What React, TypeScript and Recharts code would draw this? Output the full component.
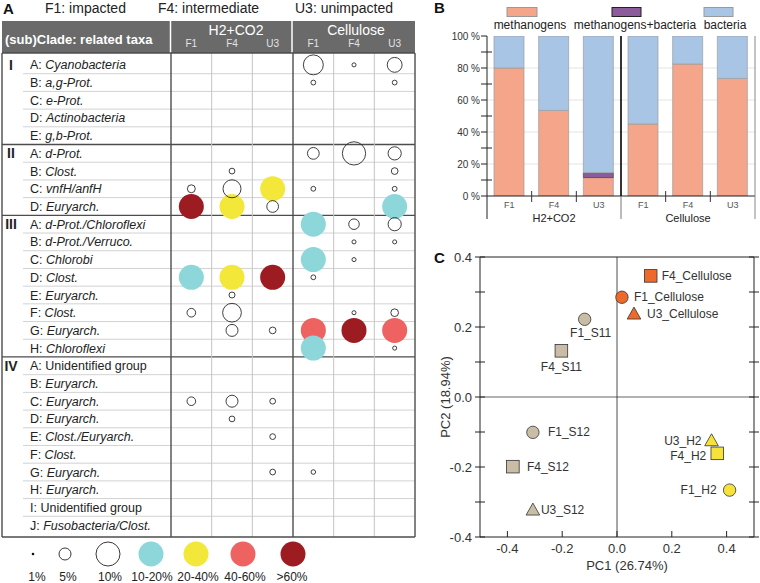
import React from 'react';
import {
  ScatterChart,
  Scatter,
  XAxis,
  YAxis,
  ReferenceLine,
  BarChart,
  Bar,
  CartesianGrid,
} from 'recharts';

const FONT = '"Liberation Sans", Arial, Helvetica, sans-serif';

// ---------- A: clone share per subclade ----------
const cladeNames = ['I', 'II', 'III', 'IV'];
const cladeFirstRow = [0, 5, 9, 17];
const subcladeLetters = [
  'A', 'B', 'C', 'D', 'E',
  'A', 'B', 'C', 'D',
  'A', 'B', 'C', 'D', 'E', 'F', 'G', 'H',
  'A', 'B', 'C', 'D', 'E', 'F', 'G', 'H', 'I', 'J',
];
const relatedTaxa = [
  'Cyanobacteria', 'a,g-Prot.', 'e-Prot.', 'Actinobacteria', 'g,b-Prot.',
  'd-Prot.', 'Clost.', 'vnfH/anfH', 'Euryarch.',
  'd-Prot./Chloroflexi', 'd-Prot./Verruco.', 'Chlorobi', 'Clost.', 'Euryarch.', 'Clost.', 'Euryarch.', 'Chloroflexi',
  'Unidentified group', 'Euryarch.', 'Euryarch.', 'Euryarch.', 'Clost./Euryarch.', 'Clost.', 'Euryarch.', 'Euryarch.',
  'Unidentified group', 'Fusobacteria/Clost.',
];
const sampleColumns = ['F1', 'F4', 'U3', 'F1', 'F4', 'U3'];

// open circles: [row, column, % of clones]
const minorShares: [number, number, number][] = [
  [0, 3, 8.3], [0, 4, 1.7], [0, 5, 6.2],
  [1, 3, 2], [1, 5, 2],
  [5, 3, 4.9], [5, 4, 9.7], [5, 5, 5.5],
  [6, 1, 2.4], [6, 5, 2.8],
  [7, 0, 3.3], [7, 1, 7.5], [7, 3, 2], [7, 5, 2],
  [8, 2, 4.9],
  [9, 4, 4.4], [9, 5, 5.5],
  [10, 4, 1.7], [10, 5, 1.7],
  [11, 4, 1.7],
  [12, 3, 2],
  [13, 1, 2.5],
  [14, 0, 3.6], [14, 1, 7.8], [14, 4, 1.7], [14, 5, 3.2],
  [15, 1, 5], [15, 2, 2.8],
  [16, 5, 1.7],
  [19, 0, 3.6], [19, 1, 5], [19, 2, 2.4],
  [20, 1, 2.4],
  [21, 2, 2.4],
  [23, 2, 2.4], [23, 3, 1.9],
];

// filled circles: [row, column, share class]
const majorShares: [number, number, string][] = [
  [7, 2, '20-40%'],
  [8, 0, '>60%'], [8, 1, '20-40%'], [8, 5, '10-20%'],
  [9, 3, '10-20%'],
  [11, 3, '10-20%'],
  [12, 0, '10-20%'], [12, 1, '20-40%'], [12, 2, '>60%'],
  [15, 3, '40-60%'], [15, 4, '>60%'], [15, 5, '40-60%'],
  [16, 3, '10-20%'],
];
const shareClasses = ['>60%', '40-60%', '20-40%', '10-20%'];
const classColors: Record<string, string> = {
  '10-20%': '#8dd7db',
  '20-40%': '#f3e73a',
  '40-60%': '#ef6262',
  '>60%': '#9c1c21',
};

// ---------- B: methanogens vs bacteria ----------
const barSites = ['F1', 'F4', 'U3', 'F1', 'F4', 'U3'];
const barSubstrates = ['H2+CO2', 'H2+CO2', 'H2+CO2', 'Cellulose', 'Cellulose', 'Cellulose'];
const methanogensShare = [80, 53.5, 11.5, 45, 82.5, 73.5];
const mixedShare = [0, 0, 3, 0, 0, 0];
const bacteriaShare = [20, 46.5, 85.5, 55, 17.5, 26.5];
const percentTicks = [0, 10, 20, 30, 40, 50, 60, 70, 80, 90, 100];

// ---------- C: PCA ----------
const pcaSamples = [
  'F4_Cellulose', 'F1_Cellulose', 'U3_Cellulose',
  'F1_S11', 'F4_S11',
  'F1_S12', 'F4_S12', 'U3_S12',
  'U3_H2', 'F4_H2', 'F1_H2',
];
const pc1Scores = [0.123, 0.018, 0.062, -0.118, -0.203, -0.307, -0.38, -0.307, 0.345, 0.366, 0.411];
const pc2Scores = [0.346, 0.285, 0.237, 0.222, 0.132, -0.101, -0.199, -0.323, -0.125, -0.161, -0.266];
const pc1Ticks = [-0.4, -0.2, 0, 0.2, 0.4];
const pc2Ticks = [-0.4, -0.3, -0.2, -0.1, 0, 0.1, 0.2, 0.3, 0.4];

// label offsets next to each PCA marker
const labelPlacement: Record<string, [number, number, 'start' | 'middle' | 'end']> = {
  F4_Cellulose: [11, 4, 'start'],
  F1_Cellulose: [12, 4, 'start'],
  U3_Cellulose: [13, 4, 'start'],
  F1_S11: [6, 18, 'middle'],
  F4_S11: [0, 20, 'middle'],
  F1_S12: [15, 4, 'start'],
  F4_S12: [14, 4, 'start'],
  U3_S12: [8, 4, 'start'],
  U3_H2: [-10, 4, 'end'],
  F4_H2: [-11, 7, 'end'],
  F1_H2: [-13, 4, 'end'],
};

// table geometry for panel A
const TABLE_LEFT = 2;
const DATA_LEFT = 171;
const TABLE_RIGHT = 415;
const COL_W = (TABLE_RIGHT - DATA_LEFT) / 6;
const X_LEFT = -0.5 - (DATA_LEFT - TABLE_LEFT) / COL_W;
const ROW_PAD = 0.17;
const Y_TOP = -0.5 - ROW_PAD;
const Y_BOTTOM = relatedTaxa.length - 0.5 + ROW_PAD;
const ROW_LINE_START = X_LEFT + (23 - TABLE_LEFT) / COL_W;
const DARK = '#4d4d4d';

const rowIndexes = relatedTaxa.map((_, i) => i);
const minorData = minorShares.map(([row, col, pct]) => ({ row, col, pct }));

const TaxonTick = (props: any) => {
  const { y, payload } = props;
  const i = payload.value as number;
  const taxon = relatedTaxa[i];
  const clade = cladeFirstRow.indexOf(i);
  return (
    <g fontFamily={FONT}>
      {clade >= 0 && (
        <text x={11} y={y} dy={5} fontSize={14} fontWeight="bold" textAnchor="middle" fill="#222">
          {cladeNames[clade]}
        </text>
      )}
      <text x={30} y={y} dy={4.5} fontSize={12.5} fill="#222">
        {subcladeLetters[i]}:{' '}
        <tspan fontStyle={taxon === 'Unidentified group' ? 'normal' : 'italic'}>{taxon}</tspan>
      </text>
    </g>
  );
};

const ColumnTick = (props: any) => (
  <text x={props.x} y={props.y - 6} textAnchor="middle" fontSize={10} fill="#e4e4e4" fontFamily={FONT}>
    {sampleColumns[props.payload.value]}
  </text>
);

const openBubble = (p: any) => (
  <circle cx={p.cx} cy={p.cy} r={p.payload.pct * 1.2} fill="none" stroke="#2a2a2a" strokeWidth={0.9} />
);

function TablePanel() {
  const hLines = rowIndexes.slice(1).map((i) => {
    const isClade = cladeFirstRow.includes(i);
    return (
      <ReferenceLine
        key={`h${i}`}
        segment={[{ x: isClade ? X_LEFT : ROW_LINE_START, y: i - 0.5 }, { x: 5.5, y: i - 0.5 }]}
        stroke={isClade ? DARK : '#d2d2d2'}
        strokeWidth={isClade ? 1.3 : 1}
        ifOverflow="visible"
      />
    );
  });
  const vLines = [X_LEFT, -0.5, 0.5, 1.5, 2.5, 3.5, 4.5, 5.5].map((x, k) => {
    const dark = k === 0 || x === -0.5 || x === 2.5 || x === 5.5;
    return (
      <ReferenceLine
        key={`v${k}`}
        segment={[{ x, y: Y_TOP }, { x, y: Y_BOTTOM }]}
        stroke={dark ? DARK : '#c4c4c4'}
        strokeWidth={dark ? 1.4 : 1}
        ifOverflow="visible"
      />
    );
  });
  return (
    <ScatterChart width={420} height={583} margin={{ top: 52, right: 5, bottom: 46, left: 1 }}>
      <XAxis
        type="number"
        dataKey="col"
        orientation="top"
        domain={[X_LEFT, 5.5]}
        ticks={[0, 1, 2, 3, 4, 5]}
        allowDataOverflow
        height={1}
        axisLine={false}
        tickLine={false}
        tickSize={0}
        tickMargin={0}
        interval={0}
        tick={<ColumnTick />}
      />
      <YAxis
        type="number"
        dataKey="row"
        domain={[Y_TOP, Y_BOTTOM]}
        reversed
        allowDataOverflow
        ticks={rowIndexes}
        interval={0}
        width={1}
        axisLine={false}
        tickLine={false}
        tick={<TaxonTick />}
      />
      {hLines}
      {vLines}
      <ReferenceLine segment={[{ x: X_LEFT, y: Y_TOP }, { x: 5.5, y: Y_TOP }]} stroke={DARK} strokeWidth={1.4} ifOverflow="visible" />
      <ReferenceLine segment={[{ x: X_LEFT, y: Y_BOTTOM }, { x: 5.5, y: Y_BOTTOM }]} stroke={DARK} strokeWidth={1.4} ifOverflow="visible" />
      {shareClasses.map((cls) => (
        <Scatter
          key={cls}
          data={majorShares.filter((c) => c[2] === cls).map(([row, col]) => ({ row, col }))}
          fill={classColors[cls]}
          isAnimationActive={false}
          shape={(p: any) => <circle cx={p.cx} cy={p.cy} r={12.5} fill={classColors[cls]} />}
        />
      ))}
      <Scatter data={minorData} isAnimationActive={false} shape={openBubble} />
    </ScatterChart>
  );
}

function TableHeader() {
  return (
    <svg width={420} height={60} style={{ position: 'absolute', left: 0, top: 0 }} fontFamily={FONT}>
      <text x={3} y={14} fontSize={15} fontWeight="bold" fill="#111">A</text>
      <text x={45} y={13} fontSize={14} fill="#222">F1: impacted</text>
      <text x={158} y={13} fontSize={14} fill="#222">F4: intermediate</text>
      <text x={295} y={13} fontSize={14} fill="#222">U3: unimpacted</text>
      <rect x={TABLE_LEFT} y={21} width={TABLE_RIGHT - TABLE_LEFT} height={32} fill="#6a6a6a" />
      <line x1={170.5} x2={170.5} y1={21} y2={53} stroke="#fff" strokeWidth={1.5} />
      <line x1={292} x2={292} y1={21} y2={53} stroke="#fff" strokeWidth={1.5} />
      <text x={5} y={44} fontSize={13} fontWeight="bold" fill="#fff">(sub)Clade: related taxa</text>
      <text x={236} y={35} fontSize={14} fill="#fff" textAnchor="middle">H2+CO2</text>
      <text x={356} y={35} fontSize={14} fill="#fff" textAnchor="middle">Cellulose</text>
    </svg>
  );
}

function TableLegend() {
  const cy = 14;
  const labelY = 41;
  return (
    <svg width={320} height={48} style={{ position: 'absolute', left: 0, top: 540 }} fontFamily={FONT}>
      <circle cx={33} cy={cy} r={1.3} fill="#111" />
      <circle cx={65} cy={cy} r={6} fill="none" stroke="#222" strokeWidth={0.9} />
      <circle cx={108} cy={cy} r={12} fill="none" stroke="#222" strokeWidth={0.9} />
      {['10-20%', '20-40%', '40-60%', '>60%'].map((cls, i) => (
        <circle key={cls} cx={[151, 196, 243, 293][i]} cy={cy} r={12.5} fill={classColors[cls]} />
      ))}
      {['1%', '5%', '10%', '10-20%', '20-40%', '40-60%', '>60%'].map((t, i) => (
        <text key={t} x={[37, 68, 110, 152, 198, 245, 292][i]} y={labelY} fontSize={12} textAnchor="middle" fill="#222">
          {t}
        </text>
      ))}
    </svg>
  );
}

// ---------- panel B ----------
const B_PLOT_W = 268;
const B_PLOT_H = 160;
const B_BAND = B_PLOT_W / barSites.length;
const barRows = barSites.map((site, i) => ({
  key: `${barSubstrates[i]} ${site}`,
  methanogens: methanogensShare[i],
  mixed: mixedShare[i],
  bacteria: bacteriaShare[i],
}));

const PercentTick = (props: any) => {
  const { x, y, payload } = props;
  const major = payload.value % 20 === 0;
  return (
    <g>
      <line x1={x - 6} x2={major ? x : x + 5} y1={y} y2={y} stroke="#222" />
      {major && (
        <text x={x - 7} y={y} dy={3.5} textAnchor="end" fontSize={10} fill="#333" fontFamily={FONT}>
          {payload.value} %
        </text>
      )}
    </g>
  );
};

const SampleTick = (props: any) => {
  const { x, y, index } = props;
  const half = B_BAND / 2;
  const first = index % 3 === 0;
  return (
    <g fontFamily={FONT}>
      <text x={x} y={y + 12} textAnchor="middle" fontSize={9} fill="#555">{barSites[index]}</text>
      {!first && <line x1={x - half} x2={x - half} y1={y - 5} y2={y + 6} stroke="#333" />}
      {first && <line x1={x - half} x2={x - half} y1={y} y2={y + 23} stroke={index === 0 ? '#222' : '#777'} />}
      {index === 3 && (
        <line x1={x - half} x2={x - half} y1={y - B_PLOT_H} y2={y} stroke="#000" strokeWidth={1.6} />
      )}
      {index === barSites.length - 1 && (
        <line x1={x + half} x2={x + half} y1={y - B_PLOT_H} y2={y + 23} stroke="#888" />
      )}
      {index % 3 === 1 && (
        <text x={x} y={y + 26} textAnchor="middle" fontSize={11} fill="#222">{barSubstrates[index]}</text>
      )}
    </g>
  );
};

function CompositionPanel() {
  return (
    <>
      <svg width={320} height={36} style={{ position: 'absolute', left: 0, top: 0 }} fontFamily={FONT}>
        <rect x={67} y={7.5} width={30} height={9} fill="#f5a68a" stroke="#999" />
        <rect x={172} y={7.5} width={29} height={9} fill="#8c5b9b" stroke="#222" />
        <rect x={264} y={7.5} width={29} height={9} fill="#a9c5e6" stroke="#999" />
        <text x={90} y={29} fontSize={12} textAnchor="middle" fill="#222">methanogens</text>
        <text x={195} y={29} fontSize={12} textAnchor="middle" fill="#222">methanogens+bacteria</text>
        <text x={285} y={29} fontSize={12} textAnchor="middle" fill="#222">bacteria</text>
      </svg>
      <div style={{ position: 'absolute', left: 0, top: 0 }}>
        <BarChart width={320} height={240} data={barRows} barSize={30} margin={{ top: 36, right: 5, bottom: 14, left: 2 }}>
          <CartesianGrid vertical={false} horizontalValues={[20, 40, 60, 80]} stroke="#e4e4e4" />
          <XAxis
            dataKey="key"
            height={30}
            interval={0}
            tickSize={0}
            tickMargin={0}
            tickLine={false}
            axisLine={{ stroke: '#222' }}
            tick={<SampleTick />}
          />
          <YAxis
            type="number"
            domain={[0, 100]}
            ticks={percentTicks}
            interval={0}
            allowDataOverflow
            width={45}
            tickSize={0}
            tickMargin={0}
            tickLine={false}
            axisLine={{ stroke: '#222' }}
            tick={<PercentTick />}
          />
          <Bar dataKey="methanogens" stackId="a" fill="#f5a68a" stroke="#9c9c9c" strokeWidth={0.7} isAnimationActive={false} />
          <Bar dataKey="mixed" stackId="a" fill="#8c5b9b" stroke="#444" strokeWidth={0.7} isAnimationActive={false} />
          <Bar dataKey="bacteria" stackId="a" fill="#a9c5e6" stroke="#9c9c9c" strokeWidth={0.7} isAnimationActive={false} />
        </BarChart>
      </div>
    </>
  );
}

// ---------- panel C ----------
const pcaData = pcaSamples.map((name, i) => ({ name, pc1: pc1Scores[i], pc2: pc2Scores[i] }));

const markerColor = (name: string) => {
  const treatment = name.split('_')[1];
  if (treatment === 'Cellulose') return '#ee6a2b';
  if (treatment === 'H2') return '#f7e23b';
  return '#c9bea5';
};

const PcaMarker = (p: any) => {
  const { cx, cy, payload } = p;
  const name: string = payload.name;
  const site = name.split('_')[0];
  const fill = markerColor(name);
  const [dx, dy, anchor] = labelPlacement[name];
  let mark;
  if (site === 'F1') {
    mark = <circle cx={cx} cy={cy} r={6.2} fill={fill} stroke="#333" strokeWidth={0.8} />;
  } else if (site === 'F4') {
    mark = <rect x={cx - 6.3} y={cy - 6.3} width={12.6} height={12.6} fill={fill} stroke="#333" strokeWidth={0.8} />;
  } else {
    mark = (
      <polygon
        points={`${cx},${cy - 7} ${cx + 6.8},${cy + 5} ${cx - 6.8},${cy + 5}`}
        fill={fill}
        stroke="#333"
        strokeWidth={0.8}
      />
    );
  }
  return (
    <g>
      {mark}
      <text x={cx + dx} y={cy + dy} textAnchor={anchor} fontSize={12} fill="#333" fontFamily={FONT}>
        {name}
      </text>
    </g>
  );
};

const fmt = (v: number) => v.toFixed(1);
const isLabelled = (v: number) => Math.round(v * 10) % 2 === 0;

const LeftTick = (props: any) => {
  const { x, y, payload } = props;
  return (
    <g>
      <line x1={x - 5} x2={x + 5} y1={y} y2={y} stroke="#222" />
      {isLabelled(payload.value) && (
        <text x={x - 8} y={y} dy={4.5} textAnchor="end" fontSize={13} fill="#333" fontFamily={FONT}>
          {fmt(payload.value)}
        </text>
      )}
    </g>
  );
};
const RightTick = (props: any) => (
  <line x1={props.x - 5} x2={props.x + 5} y1={props.y} y2={props.y} stroke="#222" />
);
const BottomTick = (props: any) => {
  const { x, y, payload } = props;
  return (
    <g>
      <line x1={x} x2={x} y1={y} y2={y - 6} stroke="#222" />
      <text x={x} y={y + 16} textAnchor="middle" fontSize={13} fill="#333" fontFamily={FONT}>
        {fmt(payload.value)}
      </text>
    </g>
  );
};
const TopTick = (props: any) => (
  <line x1={props.x} x2={props.x} y1={props.y - 6} y2={props.y + 6} stroke="#222" />
);

function PcaPanel() {
  return (
    <div style={{ position: 'absolute', left: -10, top: 250 }}>
      <ScatterChart width={330} height={333} margin={{ top: 6, right: 5, bottom: 6, left: 14 }}>
        <XAxis
          type="number"
          dataKey="pc1"
          domain={[-0.5, 0.5]}
          ticks={pc1Ticks}
          interval={0}
          allowDataOverflow
          height={40}
          tickSize={0}
          tickMargin={0}
          tickLine={false}
          axisLine={{ stroke: '#222' }}
          tick={<BottomTick />}
          label={{ value: 'PC1 (26.74%)', position: 'insideBottom', offset: 7, dx: 10, fontSize: 13, fill: '#333', fontFamily: FONT }}
        />
        <XAxis
          xAxisId="top"
          type="number"
          orientation="top"
          domain={[-0.5, 0.5]}
          ticks={pc1Ticks}
          interval={0}
          allowDataOverflow
          height={1}
          tickSize={0}
          tickMargin={0}
          tickLine={false}
          axisLine={{ stroke: '#222' }}
          tick={<TopTick />}
        />
        <YAxis
          type="number"
          dataKey="pc2"
          domain={[-0.4, 0.4]}
          ticks={pc2Ticks}
          interval={0}
          allowDataOverflow
          width={36}
          tickSize={0}
          tickMargin={0}
          tickLine={false}
          axisLine={{ stroke: '#222' }}
          tick={<LeftTick />}
          label={{
            value: 'PC2 (18.94%)',
            angle: -90,
            position: 'insideLeft',
            offset: 1,
            fontSize: 13,
            fill: '#333',
            fontFamily: FONT,
            style: { textAnchor: 'middle' },
          }}
        />
        <YAxis
          yAxisId="right"
          type="number"
          orientation="right"
          domain={[-0.4, 0.4]}
          ticks={pc2Ticks}
          interval={0}
          allowDataOverflow
          width={1}
          tickSize={0}
          tickMargin={0}
          tickLine={false}
          axisLine={{ stroke: '#222' }}
          tick={<RightTick />}
        />
        <ReferenceLine y={0} stroke="#999" strokeWidth={1.5} />
        <ReferenceLine x={0} stroke="#222" strokeWidth={0.8} />
        <Scatter data={pcaData} isAnimationActive={false} shape={<PcaMarker />} />
      </ScatterChart>
    </div>
  );
}

export default function App() {
  return (
    <div style={{ position: 'absolute', left: 0, top: 0, width: 760, height: 583, background: '#fff', fontFamily: FONT }}>
      <TableHeader />
      <div style={{ position: 'absolute', left: 0, top: 0 }}>
        <TablePanel />
      </div>
      <TableLegend />
      <svg width={20} height={280} style={{ position: 'absolute', left: 430, top: 0 }} fontFamily={FONT}>
        <text x={4} y={13} fontSize={15} fontWeight="bold" fill="#111">B</text>
        <text x={4} y={263} fontSize={15} fontWeight="bold" fill="#111">C</text>
      </svg>
      <div style={{ position: 'absolute', left: 440, top: 0, width: 320, height: 583 }}>
        <CompositionPanel />
        <PcaPanel />
      </div>
    </div>
  );
}
